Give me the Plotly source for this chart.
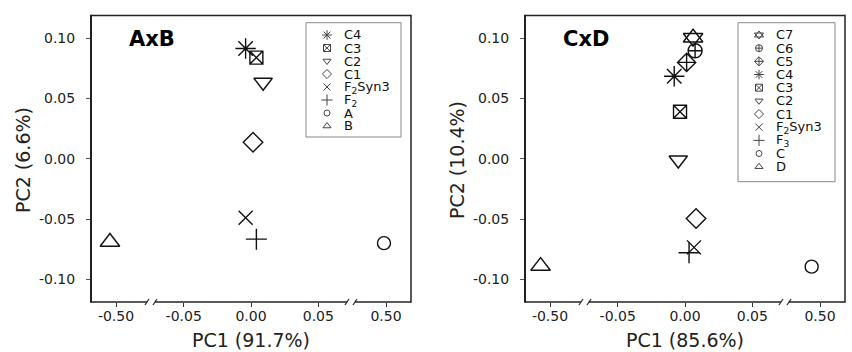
import plotly.graph_objects as go

# ---------------- data ----------------
ab_labels = ["C4", "C3", "C2", "C1", "F2Syn3", "F2", "A", "B"]
ab_pc1 = [-0.004, 0.004, 0.009, 0.0015, -0.004, 0.004, 0.4985, -0.5045]
ab_pc2 = [0.0915, 0.084, 0.0635, 0.0138, -0.049, -0.0667, -0.070, -0.069]
ab_legend = ["C4", "C3", "C2", "C1", "F<sub>2</sub>Syn3", "F<sub>2</sub>", "A", "B"]

cd_labels = ["C7", "C6", "C5", "C4", "C3", "C2", "C1", "F2Syn3", "F3", "C", "D"]
cd_pc1 = [0.006, 0.0075, 0.0012, -0.008, -0.0037, -0.005, 0.0082, 0.0067, 0.003, 0.4938, -0.507]
cd_pc2 = [0.1005, 0.0897, 0.080, 0.0685, 0.039, -0.001, -0.0495, -0.0735, -0.078, -0.0895, -0.089]
cd_legend = ["C7", "C6", "C5", "C4", "C3", "C2", "C1", "F<sub>2</sub>Syn3", "F<sub>3</sub>", "C", "D"]

y_tick_vals = [-0.10, -0.05, 0.00, 0.05, 0.10]
y_tick_text = ["-0.10", "-0.05", "0.00", "0.05", "0.10"]
seg_tick_vals = [[-0.50], [-0.05, 0.00, 0.05], [0.50]]
seg_tick_text = [["-0.50"], ["-0.05", "0.00", "0.05"], ["0.50"]]

panel_titles = ["AxB", "CxD"]
x_titles = ["PC1 (91.7%)", "PC1 (85.6%)"]
y_titles = ["PC2 (6.6%)", "PC2 (10.4%)"]

# ---------------- styles ----------------
SYMBOLS = {
    "C7": ["triangle-up-open", "triangle-down-open"],
    "C6": ["circle-cross-open"],
    "C5": ["diamond-cross-open"],
    "C4": ["asterisk-open"],
    "C3": ["square-x-open"],
    "C2": ["triangle-down-open"],
    "C1": ["diamond-open"],
    "F2Syn3": ["x-thin-open"],
    "F2": ["cross-thin-open"],
    "F3": ["cross-thin-open"],
    "A": ["circle-open"],
    "B": ["triangle-up-open"],
    "C": ["circle-open"],
    "D": ["triangle-up-open"],
}
SIZES = {"C7": 17, "C6": 14, "C5": 14, "C4": 17, "C3": 13, "C2": 16, "C1": 15,
         "F2Syn3": 14, "F2": 15, "F3": 15, "A": 13, "B": 17, "C": 13, "D": 17}
LEG_SIZES = {"C7": 8, "C6": 7, "C5": 7, "C4": 8, "C3": 7, "C2": 7, "C1": 7,
             "F2Syn3": 7, "F2": 8, "F3": 8, "A": 6, "B": 7, "C": 6, "D": 7}

W, H = 852, 352
FONT = "DejaVu Sans"
INK = "#111111"


def px(x):
    return x / W


def py(y):
    return 1 - y / H


S = 1346.0  # pixels per data unit on x
YT, YB = 15.5, 302.0
y_range = [-0.10 - (YB - 279.3) / 1205, 0.10 + (38.3 - YT) / 1205]
panels_px = [91, 525]  # left edges, each 320 wide
seg_w = [60, 200, 60]
seg_ranges = [[-0.5 - 25 / S, -0.5 + 35 / S], [-100 / S, 100 / S], [0.5 - 35 / S, 0.5 + 25 / S]]

fig = go.Figure()
layout = dict(
    width=W, height=H, margin=dict(l=0, r=0, t=0, b=0),
    paper_bgcolor="white", plot_bgcolor="rgba(0,0,0,0)", showlegend=False,
    font=dict(family=FONT, color="#222222"),
)

shapes = []
annotations = []
axis_names = [["x", "x2", "x3"], ["x4", "x5", "x6"]]
y_names = ["y", "y2"]

for p in range(2):
    left = panels_px[p]
    right = left + 320
    yname = y_names[p]
    ykey = "yaxis" if yname == "y" else "yaxis2"
    layout[ykey] = dict(
        domain=[py(YB), py(YT)], range=y_range, anchor=axis_names[p][0],
        showgrid=False, zeroline=False, showline=False,
        tickmode="array", tickvals=y_tick_vals, ticktext=y_tick_text,
        ticks="outside", ticklen=4, tickwidth=1, tickcolor="#555",
        ticklabelstandoff=8,
        tickfont=dict(size=14, family=FONT, color="#222"),
    )
    x0 = left
    for s in range(3):
        name = axis_names[p][s]
        key = "xaxis" if name == "x" else "xaxis" + name[1:]
        layout[key] = dict(
            domain=[px(x0), px(x0 + seg_w[s])], range=seg_ranges[s], anchor=yname,
            showgrid=False, zeroline=False, showline=False,
            tickmode="array", tickvals=seg_tick_vals[s], ticktext=seg_tick_text[s],
            ticks="outside", ticklen=4, tickwidth=1, tickcolor="#333",
            ticklabelstandoff=-3,
            tickfont=dict(size=14, family=FONT, color="#222"),
        )
        x0 += seg_w[s]

    # frame
    line = dict(color="#222", width=1.5)
    shapes.append(dict(type="line", xref="paper", yref="paper", x0=px(left), x1=px(right),
                       y0=py(YT), y1=py(YT), line=line))
    shapes.append(dict(type="line", xref="paper", yref="paper", x0=px(left), x1=px(left),
                       y0=py(YT - 0.7), y1=py(YB + 0.7), line=dict(color="#222", width=2)))
    shapes.append(dict(type="line", xref="paper", yref="paper", x0=px(right), x1=px(right),
                       y0=py(YT - 0.7), y1=py(YB + 0.7), line=line))
    b1 = left + seg_w[0]
    b2 = left + seg_w[0] + seg_w[1]
    gaps = [(b1 - 4, b1 + 4), (b2 - 4, b2 + 4)]
    pieces = [(left, gaps[0][0]), (gaps[0][1], gaps[1][0]), (gaps[1][1], right)]
    for a, b in pieces:
        shapes.append(dict(type="line", xref="paper", yref="paper", x0=px(a), x1=px(b),
                           y0=py(YB), y1=py(YB), line=line))
    for g0, g1 in gaps:
        for gx in (g0, g1):
            shapes.append(dict(type="line", xref="paper", yref="paper",
                               x0=px(gx - 2), x1=px(gx + 2), y0=py(YB + 3), y1=py(YB - 3),
                               line=dict(color="#222", width=1.2)))

    # titles
    annotations.append(dict(xref="paper", yref="paper", x=px(left + 36), y=py(39),
                            xanchor="left", yanchor="middle", showarrow=False,
                            text="<b>%s</b>" % panel_titles[p],
                            font=dict(size=21, family=FONT, color="#000")))
    annotations.append(dict(xref="paper", yref="paper", x=px(left + 160), y=py(340),
                            xanchor="center", yanchor="middle", showarrow=False,
                            text=x_titles[p], font=dict(size=19, family=FONT, color="#222")))
    annotations.append(dict(xref="paper", yref="paper", x=px(left - 68), y=py(160),
                            xanchor="center", yanchor="middle", showarrow=False, textangle=-90,
                            text=y_titles[p], font=dict(size=19, family=FONT, color="#222")))

# data traces
data_sets = [(ab_labels, ab_pc1, ab_pc2), (cd_labels, cd_pc1, cd_pc2)]
for p, (labs, xs, ys) in enumerate(data_sets):
    for lab, xv, yv in zip(labs, xs, ys):
        seg = 0 if xv < -0.3 else (2 if xv > 0.3 else 1)
        for sym in SYMBOLS[lab]:
            fig.add_trace(go.Scatter(
                x=[xv], y=[yv], xaxis=axis_names[p][seg], yaxis=y_names[p],
                mode="markers", cliponaxis=False, hoverinfo="skip",
                marker=dict(symbol=sym, size=SIZES[lab], color=INK,
                            line=dict(color=INK, width=1.4)),
            ))

# legends (hidden overlay axis in pixel units)
layout["xaxis7"] = dict(domain=[0, 1], range=[0, W], visible=False, anchor="y3", fixedrange=True)
layout["yaxis3"] = dict(domain=[0, 1], range=[H, 0], visible=False, anchor="x7", fixedrange=True)

legend_specs = [
    (ab_labels, ab_legend, (306, 401, 22.7, 137.0), 35.0, 13.0),
    (cd_labels, cd_legend, (738, 835, 22.7, 181.7), 35.0, 13.17),
]
for labs, texts, (bx0, bx1, by0, by1), row0, step in legend_specs:
    shapes.append(dict(type="rect", xref="paper", yref="paper", x0=px(bx0), x1=px(bx1),
                       y0=py(by1), y1=py(by0), line=dict(color="#888", width=1)))
    for i, (lab, txt) in enumerate(zip(labs, texts)):
        ry = row0 + step * i
        for sym in SYMBOLS[lab]:
            fig.add_trace(go.Scatter(
                x=[bx0 + 21], y=[ry], xaxis="x7", yaxis="y3", mode="markers",
                hoverinfo="skip", cliponaxis=False,
                marker=dict(symbol=sym, size=LEG_SIZES[lab], color="#444",
                            line=dict(color="#444", width=1)),
            ))
        annotations.append(dict(xref="paper", yref="paper", x=px(bx0 + 36), y=py(ry),
                                xanchor="left", yanchor="middle", showarrow=False,
                                text=txt, font=dict(size=13, family=FONT, color="#111")))

layout["shapes"] = shapes
layout["annotations"] = annotations
fig.update_layout(**layout)
fig.write_html("out.html")
